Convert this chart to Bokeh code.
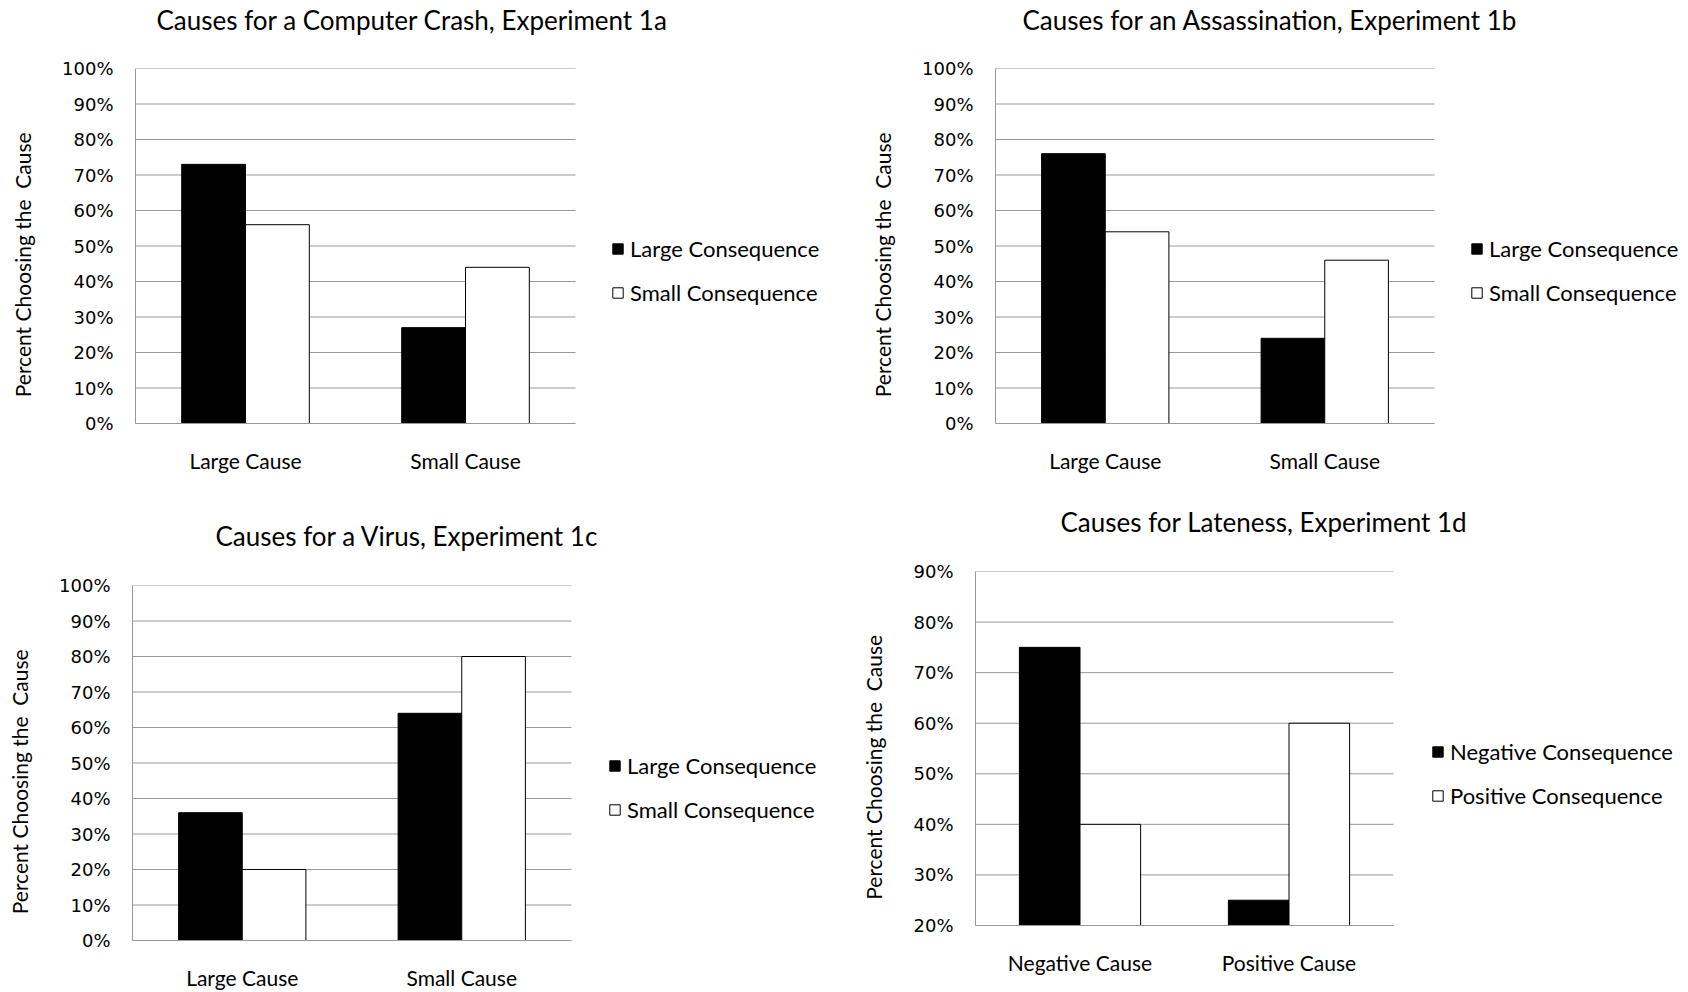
import numpy as np
from bokeh.plotting import figure
from bokeh.models import (FixedTicker, PrintfTickFormatter, Legend,
                          LegendItem, Range1d, ColumnDataSource, Title)
from bokeh.layouts import row, column
from bokeh.embed import file_html
from bokeh.resources import INLINE

# ---------------- data ----------------
title_1a = "Causes for a Computer Crash, Experiment 1a"
cats_1a = ["Large Cause", "Small Cause"]
large_cons_1a = [73, 27]
small_cons_1a = [56, 44]

title_1b = "Causes for an Assassination,  Experiment 1b"
cats_1b = ["Large Cause", "Small Cause"]
large_cons_1b = [76, 24]
small_cons_1b = [54, 46]

title_1c = "Causes for a Virus, Experiment 1c"
cats_1c = ["Large Cause", "Small Cause"]
large_cons_1c = [36, 64]
small_cons_1c = [20, 80]

title_1d = "Causes for Lateness, Experiment 1d"
cats_1d = ["Negative Cause", "Positive Cause"]
neg_cons_1d = [75, 25]
pos_cons_1d = [40, 60]

series_names_abc = ["Large Consequence", "Small Consequence"]
series_names_d = ["Negative Consequence", "Positive Consequence"]

ticks_0_100 = [0, 10, 20, 30, 40, 50, 60, 70, 80, 90, 100]
ticks_20_90 = [20, 30, 40, 50, 60, 70, 80, 90]

y_label = "Percent Choosing the\u00a0 Cause" + "\u00a0" * 7

GRID = "#999999"
LABEL_FONT = "Lato"
TICK_FONT = "DejaVu Sans"
BAR_W = 0.29


def panel(title, cats, s1, s2, names, ticks, geom):
    left, plot_w, top, bottom, toff, gap, lx, ly = geom
    W, H = 844, 496
    frame_w = W - left
    ncat = len(cats)
    x_end = ncat * frame_w / plot_w          # plot area covers [0, ncat]
    ymin, ymax = ticks[0], ticks[-1]
    xc = np.arange(ncat) + 0.5
    src = ColumnDataSource(dict(xa=xc - BAR_W / 2, xb=xc + BAR_W / 2,
                                a=s1, b=s2))
    p = figure(x_range=Range1d(0, x_end), y_range=Range1d(ymin, ymax),
               width=W, height=H, title=None,
               min_border_left=left, min_border_right=0,
               min_border_top=top, min_border_bottom=bottom,
               output_backend="svg", toolbar_location=None,
               background_fill_color="white", border_fill_color="white")
    p.outline_line_color = None
    # spacer between frame and title
    p.add_layout(Title(text=" ", text_font_size="2px", standoff=gap), "above")
    p.add_layout(Title(text=title, text_font=LABEL_FONT, text_font_size="26px",
                       text_font_style="normal", text_color="black",
                       align="left", offset=toff, standoff=0), "above")

    # horizontal grid lines limited to the plot area
    p.xgrid.grid_line_color = None
    p.ygrid.grid_line_color = None
    p.segment(x0=[0] * len(ticks), x1=[ncat] * len(ticks), y0=ticks, y1=ticks,
              line_color=GRID, line_width=1)

    r1 = p.vbar(x="xa", top="a", bottom=ymin, width=BAR_W, source=src,
                fill_color="black", line_color="black", line_width=1)
    r2 = p.vbar(x="xb", top="b", bottom=ymin, width=BAR_W, source=src,
                fill_color="white", line_color="black", line_width=1)

    p.yaxis.ticker = FixedTicker(ticks=ticks)
    p.yaxis.formatter = PrintfTickFormatter(format="%d%%")
    p.xaxis.ticker = FixedTicker(ticks=list(xc))
    p.xaxis.major_label_overrides = {float(x): c for x, c in zip(xc, cats)}
    p.xaxis.bounds = (0, ncat)
    for ax in (p.xaxis[0], p.yaxis[0]):
        ax.axis_line_color = GRID
        ax.axis_line_width = 1
        ax.major_tick_line_color = None
        ax.minor_tick_line_color = None
        ax.major_tick_out = 0
        ax.major_tick_in = 0
        ax.major_label_text_color = "black"
    p.yaxis.major_label_text_font = TICK_FONT
    p.yaxis.major_label_text_font_size = "18px"
    p.yaxis.major_label_standoff = 22
    p.yaxis.axis_label = y_label
    p.yaxis.axis_label_text_font = LABEL_FONT
    p.yaxis.axis_label_text_font_size = "21px"
    p.yaxis.axis_label_text_font_style = "normal"
    p.yaxis.axis_label_text_color = "black"
    p.yaxis.axis_label_standoff = 24
    p.xaxis.major_label_text_font = LABEL_FONT
    p.xaxis.major_label_text_font_size = "21px"
    p.xaxis.major_label_standoff = 24

    legend = Legend(items=[LegendItem(label=names[0], renderers=[r1]),
                           LegendItem(label=names[1], renderers=[r2])],
                    location=(lx, ly), padding=0, margin=0, spacing=17,
                    glyph_width=13, glyph_height=13, label_standoff=6,
                    border_line_color=None, background_fill_alpha=0,
                    label_text_font=LABEL_FONT, label_text_font_size="22px",
                    label_text_color="black")
    p.add_layout(legend, "center")
    return p


# geometry: left, plot_w, top, bottom, title_offset, title_gap, legend_x, legend_y
p1 = panel(title_1a, cats_1a, large_cons_1a, small_cons_1a, series_names_abc,
           ticks_0_100, (135, 440, 68, 73, 21, 29, 476, 117))
p2 = panel(title_1b, cats_1b, large_cons_1b, small_cons_1b, series_names_abc,
           ticks_0_100, (151, 439, 68, 73, 27, 29, 475, 117))
p3 = panel(title_1c, cats_1c, large_cons_1c, small_cons_1c, series_names_abc,
           ticks_0_100, (132, 439, 89, 52, 83, 30, 476, 117))
p4 = panel(title_1d, cats_1d, neg_cons_1d, pos_cons_1d, series_names_d,
           ticks_20_90, (131, 418, 75, 67, 85, 30, 456, 116))

layout = column(row(column(p1), column(p2)), row(column(p3), column(p4)))
open("out.html", "w").write(file_html(layout, INLINE))
